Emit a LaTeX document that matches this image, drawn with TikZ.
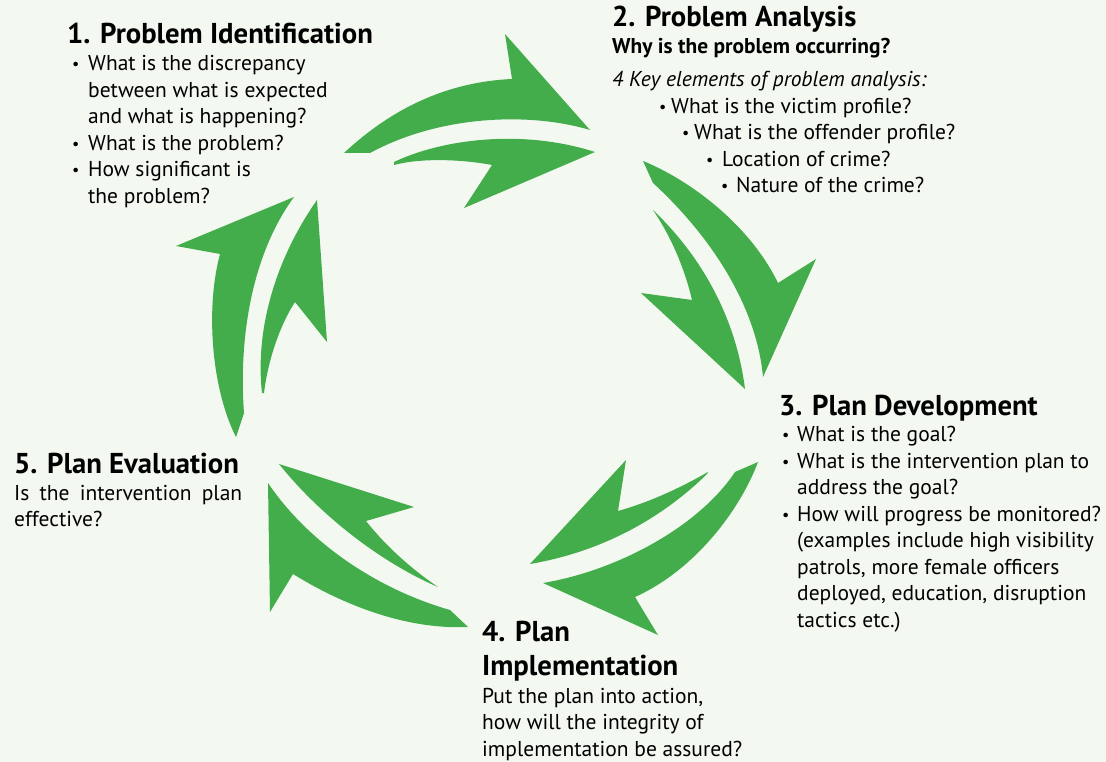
\documentclass[tikz,border=0pt]{standalone}
\usepackage{fontspec}
\setmainfont{PT Sans}
\usepackage{array}
\usetikzlibrary{positioning}
\definecolor{cyclegreen}{RGB}{66,173,74}
\definecolor{paper}{RGB}{243,248,241}
\newcommand{\dotmark}{\raisebox{1pt}{\scalebox{0.75}{\textbullet}}}
\tikzset{
  arrowpart/.style={fill=cyclegreen, draw=none},
  steptitle/.style={anchor=base west, inner sep=0pt, align=left,
    font=\fontsize{28.7}{33.3}\selectfont\bfseries},
  stepbody/.style={anchor=base west, inner sep=0pt,
    font=\fontsize{21.5}{26.5}\selectfont},
  stepask/.style={anchor=base west, inner sep=0pt,
    font=\fontsize{21.4}{26.5}\selectfont\bfseries},
}

\begin{document}
\begin{tikzpicture}[x=1pt,y=-1pt]
\fill[paper] (0,0) rectangle (1106,762);
\useasboundingbox (0,0) rectangle (1106,762);

% arrows 1 -> 2
\fill[arrowpart] (344,153) .. controls (390,110) and (445,82) .. (512,79) -- (505,34) -- (590,130)
  .. controls (530,112) and (440,115) .. (370,153) -- cycle;
\fill[arrowpart] (394,162) .. controls (440,140) and (520,128) .. (595,152) -- (464,208) -- (492,165)
  .. controls (460,159) and (420,158) .. (394,165) -- cycle;
% arrows 2 -> 3
\fill[arrowpart] (643,161) .. controls (690,180) and (750,225) .. (778,283) -- (816,259) -- (763,377)
  .. controls (757,310) and (715,240) .. (653,183) -- cycle;
\fill[arrowpart] (653,210) .. controls (695,250) and (735,310) .. (745,389) -- (641,293) -- (692,300)
  .. controls (685,270) and (672,238) .. (653,210) -- cycle;
% arrows 3 -> 4
\fill[arrowpart] (758,462) .. controls (740,510) and (695,570) .. (635,597) -- (658,635) -- (543,583)
  .. controls (620,570) and (700,525) .. (735,472) -- cycle;
\fill[arrowpart] (708,472) .. controls (680,488) and (650,502) .. (618,511) -- (626,460) -- (530,564)
  .. controls (600,552) and (660,520) .. (707,474) -- cycle;
% arrows 4 -> 5
\fill[arrowpart] (468,627) .. controls (400,630) and (335,600) .. (293,574) -- (270,612) -- (268,483)
  .. controls (310,545) and (380,590) .. (450,610) -- cycle;
\fill[arrowpart] (438,587) .. controls (380,562) and (320,515) .. (279,464) -- (414,507) -- (366,521)
  .. controls (385,545) and (410,568) .. (438,587) -- cycle;
% arrows 5 -> 1
\fill[arrowpart] (236,437) .. controls (212,390) and (205,310) .. (220,254) -- (176,246) -- (294,197)
  .. controls (255,250) and (238,330) .. (244,413) -- cycle;
\fill[arrowpart] (262,393) .. controls (255,330) and (275,260) .. (317,200) -- (327,342) -- (295,302)
  .. controls (280,325) and (268,360) .. (264,393) -- cycle;

% 1. identification
\node[steptitle] (ident) at (67,43.3) {1. Problem Identification};
\node[stepbody] (identtext) at (72,71) {\begin{tabular}[t]{@{}p{16pt}@{}l@{}}
  \dotmark & What is the discrepancy\\
  & between what is expected\\
  & and what is happening?\\
  \dotmark & What is the problem?\\
  \dotmark & How significant is\\
  & the problem?
\end{tabular}};

% 2. analysis
\node[steptitle] (anal) at (612,26.7) {2. Problem Analysis};
\node[stepask] (analask) at (612,53.3) {Why is the problem occurring?};
\node[stepbody] (analtext) at (612,86.7) {\begin{tabular}[t]{@{}l@{}}
  \textit{4 Key elements of problem analysis:}\\
  \hspace*{47pt}\makebox[12pt][l]{\dotmark}What is the victim profile?\\
  \hspace*{70pt}\makebox[12pt][l]{\dotmark}What is the offender profile?\\
  \hspace*{94pt}\makebox[16pt][l]{\dotmark}Location of crime?\\
  \hspace*{109pt}\makebox[15pt][l]{\dotmark}Nature of the crime?
\end{tabular}};

% 3. development
\node[steptitle] (devel) at (779,415) {3. Plan Development};
\node[stepbody] (develtext) at (782,441.7) {\begin{tabular}[t]{@{}p{15pt}@{}l@{}}
  \dotmark & What is the goal?\\
  \dotmark & What is the intervention plan to\\
  & address the goal?\\
  \dotmark & How will progress be monitored?\\
  & (examples include high visibility\\
  & patrols, more female officers\\
  & deployed, education, disruption\\
  & tactics etc.)
\end{tabular}};

% 4. implementation
\node[steptitle] (impl) at (482,675) {4. Plan\\Implementation};
\node[stepbody] (impltext) at (482,703.3) {\begin{tabular}[t]{@{}l@{}}
  Put the plan into action,\\
  how will the integrity of\\
  implementation be assured?
\end{tabular}};

% 5. evaluation
\node[steptitle] (evalu) at (14,473.3) {5. Plan Evaluation};
\node[stepbody, text width=228pt, align=justify] (evalutext) at (14,500)
  {Is the intervention plan\linebreak effective?};
\end{tikzpicture}
\end{document}
